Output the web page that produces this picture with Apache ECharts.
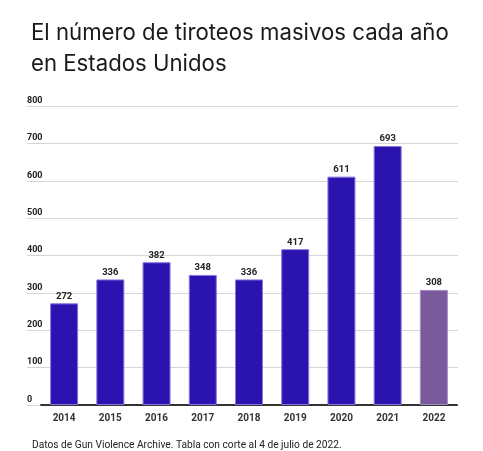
<!DOCTYPE html>
<html><head><meta charset="utf-8">
<script src="https://cdn.jsdelivr.net/npm/echarts@6/dist/echarts.min.js"></script>
<style>html,body{margin:0;padding:0;background:#fff}#c{width:483px;height:451px}</style>
</head><body><div id="c"></div>
<script>
const years = ['2014','2015','2016','2017','2018','2019','2020','2021','2022'];
const shootings = [272, 336, 382, 348, 336, 417, 611, 693, 308];
const yTicks = [0, 100, 200, 300, 400, 500, 600, 700, 800];
const titleText = 'El número de tiroteos masivos cada año\nen Estados Unidos';
const noteText = 'Datos de Gun Violence Archive. Tabla con corte al 4 de julio de 2022.';

const chart = echarts.init(document.getElementById('c'));
const yMax = yTicks[yTicks.length - 1];
chart.setOption({
  animation: false,
  title: [
    { text: titleText, left: 26, top: 13,
      textStyle: { fontFamily: 'Inter', fontSize: 22.2, fontWeight: 'normal', color: '#1a1a1a', lineHeight: 31 } },
    { text: noteText, left: 27, top: 435,
      textStyle: { fontFamily: 'Roboto', fontSize: 10.2, fontWeight: 'normal', color: '#222' } }
  ],
  grid: [
    { left: 27, right: 25, top: 106, bottom: 46 },
    { left: 41, right: 26, top: 106, bottom: 46 }
  ],
  xAxis: [
    { gridIndex: 0, type: 'value', min: 0, max: 1, show: false },
    { gridIndex: 1, type: 'category', data: years,
      axisLine: { lineStyle: { color: '#333', width: 2 } },
      axisTick: { show: false },
      axisLabel: { color: '#333', fontFamily: 'Roboto', fontSize: 10, fontWeight: 'bold', margin: 8 } }
  ],
  yAxis: [
    { gridIndex: 0, type: 'value', min: 0, max: yMax, interval: 100,
      axisLine: { show: false }, axisTick: { show: false },
      splitLine: { lineStyle: { color: '#d6d6d6', width: 1 } },
      axisLabel: { inside: true, verticalAlign: 'bottom', margin: 0, padding: [0, 0, 1, 0],
        color: '#222', fontFamily: 'Roboto', fontSize: 9, fontWeight: 'bold' } },
    { gridIndex: 1, type: 'value', min: 0, max: yMax, interval: 100, show: false, splitLine: { show: false } }
  ],
  series: [{
    type: 'bar', xAxisIndex: 1, yAxisIndex: 1, barWidth: 28,
    data: shootings.map((v, i) => ({
      value: v,
      itemStyle: i === shootings.length - 1
        ? { color: '#7a5a9c', borderColor: '#a58bc4', borderWidth: 1 }
        : { color: '#2b13b0', borderColor: '#8877e0', borderWidth: 1 }
    })),
    label: { show: true, position: 'top', distance: 2, color: '#222',
      fontFamily: 'Roboto', fontSize: 9.5, fontWeight: 'bold' }
  }]
});
</script></body></html>
